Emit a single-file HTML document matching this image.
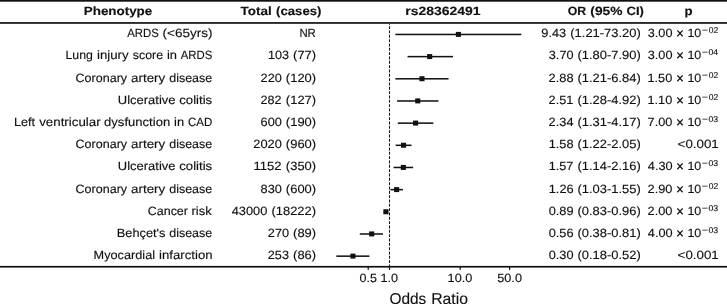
<!DOCTYPE html>
<html><head><meta charset="utf-8"><style>
html,body{margin:0;padding:0;background:#fff;}
body{width:727px;height:304px;overflow:hidden;}
svg{display:block;will-change:transform;}
text{font-family:"Liberation Sans",sans-serif;fill:#111;stroke:#111;stroke-width:0.14px;text-rendering:geometricPrecision;}
</style></head><body>
<svg width="727" height="304" viewBox="0 0 727 304">
<rect x="0" y="0" width="727" height="1.7" fill="#111"/>
<rect x="0" y="22.1" width="727" height="1.7" fill="#111"/>
<rect x="0" y="265.9" width="727" height="1.7" fill="#111"/>
<line x1="389.50" y1="23.8" x2="389.50" y2="266" stroke="#111" stroke-width="1.05" stroke-dasharray="2.89 1.444" stroke-dashoffset="-2.35"/>
<text x="83.78" y="14.70" font-size="12.00" font-weight="bold" textLength="68.50" lengthAdjust="spacingAndGlyphs">Phenotype</text>
<text x="240.59" y="14.70" font-size="12.00" font-weight="bold" textLength="31.15" lengthAdjust="spacingAndGlyphs">Total</text>
<text x="276.02" y="14.70" font-size="12.00" font-weight="bold" textLength="45.41" lengthAdjust="spacingAndGlyphs">(cases)</text>
<text x="405.32" y="14.70" font-size="12.00" font-weight="bold" textLength="75.25" lengthAdjust="spacingAndGlyphs">rs28362491</text>
<text x="567.76" y="14.70" font-size="12.00" font-weight="bold" textLength="18.38" lengthAdjust="spacingAndGlyphs">OR</text>
<text x="590.36" y="14.70" font-size="12.00" font-weight="bold" textLength="32.13" lengthAdjust="spacingAndGlyphs">(95%</text>
<text x="626.48" y="14.70" font-size="12.00" font-weight="bold" textLength="17.41" lengthAdjust="spacingAndGlyphs">CI)</text>
<text x="684.59" y="14.70" font-size="12.00" font-weight="bold" textLength="8.09" lengthAdjust="spacingAndGlyphs">p</text>
<text x="127.29" y="37.00" font-size="12.00" textLength="31.47" lengthAdjust="spacingAndGlyphs">ARDS</text>
<text x="162.63" y="37.00" font-size="12.00" textLength="49.91" lengthAdjust="spacingAndGlyphs">(&lt;65yrs)</text>
<text x="299.40" y="37.00" font-size="12.00" textLength="16.43" lengthAdjust="spacingAndGlyphs">NR</text>
<text x="541.32" y="37.00" font-size="12.00" textLength="24.85" lengthAdjust="spacingAndGlyphs">9.43</text>
<text x="570.31" y="37.00" font-size="12.00" textLength="70.48" lengthAdjust="spacingAndGlyphs">(1.21-73.20)</text>
<rect x="395.35" y="33.70" width="125.97" height="1.52" fill="#111"/>
<rect x="455.85" y="31.90" width="5.1" height="5.0" fill="#111"/>
<text x="647.77" y="37.00" font-size="12.00" textLength="24.68" lengthAdjust="spacingAndGlyphs">3.00</text>
<path d="M677.35 30.45L682.65 36.25M682.65 30.45L677.35 36.25" stroke="#111" stroke-width="1.25" fill="none"/>
<text x="687.42" y="37.00" font-size="12.00" textLength="13.90" lengthAdjust="spacingAndGlyphs">10</text>
<rect x="702.3" y="29.75" width="5.2" height="0.75" fill="#111"/>
<text x="708.65" y="33.00" font-size="8.34" textLength="9.50" lengthAdjust="spacingAndGlyphs">02</text>
<text x="65.52" y="59.00" font-size="12.00" textLength="27.42" lengthAdjust="spacingAndGlyphs">Lung</text>
<text x="96.97" y="59.00" font-size="12.00" textLength="31.63" lengthAdjust="spacingAndGlyphs">injury</text>
<text x="132.81" y="59.00" font-size="12.00" textLength="30.23" lengthAdjust="spacingAndGlyphs">score</text>
<text x="166.91" y="59.00" font-size="12.00" textLength="10.04" lengthAdjust="spacingAndGlyphs">in</text>
<text x="180.75" y="59.00" font-size="12.00" textLength="31.47" lengthAdjust="spacingAndGlyphs">ARDS</text>
<text x="267.92" y="59.00" font-size="12.00" textLength="21.05" lengthAdjust="spacingAndGlyphs">103</text>
<text x="293.12" y="59.00" font-size="12.00" textLength="22.99" lengthAdjust="spacingAndGlyphs">(77)</text>
<text x="548.82" y="59.00" font-size="12.00" textLength="24.68" lengthAdjust="spacingAndGlyphs">3.70</text>
<text x="577.54" y="59.00" font-size="12.00" textLength="63.25" lengthAdjust="spacingAndGlyphs">(1.80-7.90)</text>
<rect x="407.55" y="55.87" width="45.41" height="1.52" fill="#111"/>
<rect x="427.12" y="54.07" width="5.1" height="5.0" fill="#111"/>
<text x="647.77" y="59.00" font-size="12.00" textLength="24.68" lengthAdjust="spacingAndGlyphs">3.00</text>
<path d="M677.35 52.45L682.65 58.25M682.65 52.45L677.35 58.25" stroke="#111" stroke-width="1.25" fill="none"/>
<text x="687.42" y="59.00" font-size="12.00" textLength="13.90" lengthAdjust="spacingAndGlyphs">10</text>
<rect x="702.3" y="51.75" width="5.2" height="0.75" fill="#111"/>
<text x="708.47" y="55.00" font-size="8.34" textLength="9.68" lengthAdjust="spacingAndGlyphs">04</text>
<text x="75.54" y="82.00" font-size="12.00" textLength="51.54" lengthAdjust="spacingAndGlyphs">Coronary</text>
<text x="131.13" y="82.00" font-size="12.00" textLength="34.06" lengthAdjust="spacingAndGlyphs">artery</text>
<text x="169.23" y="82.00" font-size="12.00" textLength="43.03" lengthAdjust="spacingAndGlyphs">disease</text>
<text x="260.59" y="82.00" font-size="12.00" textLength="21.25" lengthAdjust="spacingAndGlyphs">220</text>
<text x="285.89" y="82.00" font-size="12.00" textLength="30.23" lengthAdjust="spacingAndGlyphs">(120)</text>
<text x="548.63" y="82.00" font-size="12.00" textLength="24.90" lengthAdjust="spacingAndGlyphs">2.88</text>
<text x="577.54" y="82.00" font-size="12.00" textLength="63.25" lengthAdjust="spacingAndGlyphs">(1.21-6.84)</text>
<rect x="395.35" y="78.04" width="53.19" height="1.52" fill="#111"/>
<rect x="419.43" y="76.24" width="5.1" height="5.0" fill="#111"/>
<text x="647.48" y="82.00" font-size="12.00" textLength="24.78" lengthAdjust="spacingAndGlyphs">1.50</text>
<path d="M677.35 75.45L682.65 81.25M682.65 75.45L677.35 81.25" stroke="#111" stroke-width="1.25" fill="none"/>
<text x="687.42" y="82.00" font-size="12.00" textLength="13.90" lengthAdjust="spacingAndGlyphs">10</text>
<rect x="702.3" y="74.75" width="5.2" height="0.75" fill="#111"/>
<text x="708.65" y="78.00" font-size="8.34" textLength="9.50" lengthAdjust="spacingAndGlyphs">02</text>
<text x="117.85" y="104.00" font-size="12.00" textLength="57.68" lengthAdjust="spacingAndGlyphs">Ulcerative</text>
<text x="179.26" y="104.00" font-size="12.00" textLength="32.90" lengthAdjust="spacingAndGlyphs">colitis</text>
<text x="260.60" y="104.00" font-size="12.00" textLength="20.99" lengthAdjust="spacingAndGlyphs">282</text>
<text x="285.89" y="104.00" font-size="12.00" textLength="30.23" lengthAdjust="spacingAndGlyphs">(127)</text>
<text x="548.63" y="104.00" font-size="12.00" textLength="24.69" lengthAdjust="spacingAndGlyphs">2.51</text>
<text x="577.54" y="104.00" font-size="12.00" textLength="63.25" lengthAdjust="spacingAndGlyphs">(1.28-4.92)</text>
<rect x="397.08" y="100.21" width="41.34" height="1.52" fill="#111"/>
<rect x="415.21" y="98.41" width="5.1" height="5.0" fill="#111"/>
<text x="647.48" y="104.00" font-size="12.00" textLength="24.78" lengthAdjust="spacingAndGlyphs">1.10</text>
<path d="M677.35 97.45L682.65 103.25M682.65 97.45L677.35 103.25" stroke="#111" stroke-width="1.25" fill="none"/>
<text x="687.42" y="104.00" font-size="12.00" textLength="13.90" lengthAdjust="spacingAndGlyphs">10</text>
<rect x="702.3" y="96.75" width="5.2" height="0.75" fill="#111"/>
<text x="708.65" y="100.00" font-size="8.34" textLength="9.50" lengthAdjust="spacingAndGlyphs">02</text>
<text x="13.96" y="126.00" font-size="12.00" textLength="21.13" lengthAdjust="spacingAndGlyphs">Left</text>
<text x="39.18" y="126.00" font-size="12.00" textLength="61.41" lengthAdjust="spacingAndGlyphs">ventricular</text>
<text x="104.06" y="126.00" font-size="12.00" textLength="66.14" lengthAdjust="spacingAndGlyphs">dysfunction</text>
<text x="174.12" y="126.00" font-size="12.00" textLength="10.04" lengthAdjust="spacingAndGlyphs">in</text>
<text x="187.94" y="126.00" font-size="12.00" textLength="24.30" lengthAdjust="spacingAndGlyphs">CAD</text>
<text x="260.54" y="126.00" font-size="12.00" textLength="21.30" lengthAdjust="spacingAndGlyphs">600</text>
<text x="285.89" y="126.00" font-size="12.00" textLength="30.23" lengthAdjust="spacingAndGlyphs">(190)</text>
<text x="548.63" y="126.00" font-size="12.00" textLength="24.86" lengthAdjust="spacingAndGlyphs">2.34</text>
<text x="577.54" y="126.00" font-size="12.00" textLength="63.25" lengthAdjust="spacingAndGlyphs">(1.31-4.17)</text>
<rect x="397.79" y="122.38" width="35.55" height="1.52" fill="#111"/>
<rect x="413.05" y="120.58" width="5.1" height="5.0" fill="#111"/>
<text x="647.64" y="126.00" font-size="12.00" textLength="24.78" lengthAdjust="spacingAndGlyphs">7.00</text>
<path d="M677.35 119.45L682.65 125.25M682.65 119.45L677.35 125.25" stroke="#111" stroke-width="1.25" fill="none"/>
<text x="687.42" y="126.00" font-size="12.00" textLength="13.90" lengthAdjust="spacingAndGlyphs">10</text>
<rect x="702.3" y="118.75" width="5.2" height="0.75" fill="#111"/>
<text x="708.57" y="122.00" font-size="8.34" textLength="9.62" lengthAdjust="spacingAndGlyphs">03</text>
<text x="75.54" y="148.00" font-size="12.00" textLength="51.54" lengthAdjust="spacingAndGlyphs">Coronary</text>
<text x="131.13" y="148.00" font-size="12.00" textLength="34.06" lengthAdjust="spacingAndGlyphs">artery</text>
<text x="169.23" y="148.00" font-size="12.00" textLength="43.03" lengthAdjust="spacingAndGlyphs">disease</text>
<text x="253.34" y="148.00" font-size="12.00" textLength="28.50" lengthAdjust="spacingAndGlyphs">2020</text>
<text x="285.88" y="148.00" font-size="12.00" textLength="30.23" lengthAdjust="spacingAndGlyphs">(960)</text>
<text x="548.72" y="148.00" font-size="12.00" textLength="24.81" lengthAdjust="spacingAndGlyphs">1.58</text>
<text x="577.54" y="148.00" font-size="12.00" textLength="63.25" lengthAdjust="spacingAndGlyphs">(1.22-2.05)</text>
<rect x="395.61" y="144.55" width="15.94" height="1.52" fill="#111"/>
<rect x="401.00" y="142.75" width="5.1" height="5.0" fill="#111"/>
<text x="677.63" y="148.00" font-size="12.00" textLength="41.13" lengthAdjust="spacingAndGlyphs">&lt;0.001</text>
<text x="117.85" y="170.00" font-size="12.00" textLength="57.68" lengthAdjust="spacingAndGlyphs">Ulcerative</text>
<text x="179.26" y="170.00" font-size="12.00" textLength="32.90" lengthAdjust="spacingAndGlyphs">colitis</text>
<text x="253.41" y="170.00" font-size="12.00" textLength="28.21" lengthAdjust="spacingAndGlyphs">1152</text>
<text x="285.88" y="170.00" font-size="12.00" textLength="30.23" lengthAdjust="spacingAndGlyphs">(350)</text>
<text x="548.72" y="170.00" font-size="12.00" textLength="24.69" lengthAdjust="spacingAndGlyphs">1.57</text>
<text x="577.54" y="170.00" font-size="12.00" textLength="63.25" lengthAdjust="spacingAndGlyphs">(1.14-2.16)</text>
<rect x="393.52" y="166.72" width="19.62" height="1.52" fill="#111"/>
<rect x="400.80" y="164.92" width="5.1" height="5.0" fill="#111"/>
<text x="647.81" y="170.00" font-size="12.00" textLength="24.80" lengthAdjust="spacingAndGlyphs">4.30</text>
<path d="M677.35 163.45L682.65 169.25M682.65 163.45L677.35 169.25" stroke="#111" stroke-width="1.25" fill="none"/>
<text x="687.42" y="170.00" font-size="12.00" textLength="13.90" lengthAdjust="spacingAndGlyphs">10</text>
<rect x="702.3" y="162.75" width="5.2" height="0.75" fill="#111"/>
<text x="708.57" y="166.00" font-size="8.34" textLength="9.62" lengthAdjust="spacingAndGlyphs">03</text>
<text x="75.54" y="193.00" font-size="12.00" textLength="51.54" lengthAdjust="spacingAndGlyphs">Coronary</text>
<text x="131.13" y="193.00" font-size="12.00" textLength="34.06" lengthAdjust="spacingAndGlyphs">artery</text>
<text x="169.23" y="193.00" font-size="12.00" textLength="43.03" lengthAdjust="spacingAndGlyphs">disease</text>
<text x="260.62" y="193.00" font-size="12.00" textLength="21.22" lengthAdjust="spacingAndGlyphs">830</text>
<text x="285.89" y="193.00" font-size="12.00" textLength="30.23" lengthAdjust="spacingAndGlyphs">(600)</text>
<text x="548.72" y="193.00" font-size="12.00" textLength="24.88" lengthAdjust="spacingAndGlyphs">1.26</text>
<text x="577.54" y="193.00" font-size="12.00" textLength="63.25" lengthAdjust="spacingAndGlyphs">(1.03-1.55)</text>
<rect x="390.41" y="188.89" width="12.55" height="1.52" fill="#111"/>
<rect x="394.05" y="187.09" width="5.1" height="5.0" fill="#111"/>
<text x="647.60" y="193.00" font-size="12.00" textLength="24.87" lengthAdjust="spacingAndGlyphs">2.90</text>
<path d="M677.35 186.45L682.65 192.25M682.65 186.45L677.35 192.25" stroke="#111" stroke-width="1.25" fill="none"/>
<text x="687.42" y="193.00" font-size="12.00" textLength="13.90" lengthAdjust="spacingAndGlyphs">10</text>
<rect x="702.3" y="185.75" width="5.2" height="0.75" fill="#111"/>
<text x="708.65" y="189.00" font-size="8.34" textLength="9.50" lengthAdjust="spacingAndGlyphs">02</text>
<text x="147.74" y="215.00" font-size="12.00" textLength="40.24" lengthAdjust="spacingAndGlyphs">Cancer</text>
<text x="191.57" y="215.00" font-size="12.00" textLength="20.12" lengthAdjust="spacingAndGlyphs">risk</text>
<text x="231.72" y="215.00" font-size="12.00" textLength="35.65" lengthAdjust="spacingAndGlyphs">43000</text>
<text x="271.42" y="215.00" font-size="12.00" textLength="44.69" lengthAdjust="spacingAndGlyphs">(18222)</text>
<text x="548.69" y="215.00" font-size="12.00" textLength="24.87" lengthAdjust="spacingAndGlyphs">0.89</text>
<text x="577.54" y="215.00" font-size="12.00" textLength="63.25" lengthAdjust="spacingAndGlyphs">(0.83-0.96)</text>
<rect x="383.78" y="211.06" width="4.47" height="1.52" fill="#111"/>
<rect x="383.37" y="209.26" width="5.1" height="5.0" fill="#111"/>
<text x="647.60" y="215.00" font-size="12.00" textLength="24.87" lengthAdjust="spacingAndGlyphs">2.00</text>
<path d="M677.35 208.45L682.65 214.25M682.65 208.45L677.35 214.25" stroke="#111" stroke-width="1.25" fill="none"/>
<text x="687.42" y="215.00" font-size="12.00" textLength="13.90" lengthAdjust="spacingAndGlyphs">10</text>
<rect x="702.3" y="207.75" width="5.2" height="0.75" fill="#111"/>
<text x="708.57" y="211.00" font-size="8.34" textLength="9.62" lengthAdjust="spacingAndGlyphs">03</text>
<text x="116.82" y="237.00" font-size="12.00" textLength="48.59" lengthAdjust="spacingAndGlyphs">Behçet&#39;s</text>
<text x="169.22" y="237.00" font-size="12.00" textLength="43.03" lengthAdjust="spacingAndGlyphs">disease</text>
<text x="267.82" y="237.00" font-size="12.00" textLength="21.25" lengthAdjust="spacingAndGlyphs">270</text>
<text x="293.12" y="237.00" font-size="12.00" textLength="22.99" lengthAdjust="spacingAndGlyphs">(89)</text>
<text x="548.69" y="237.00" font-size="12.00" textLength="24.91" lengthAdjust="spacingAndGlyphs">0.56</text>
<text x="577.54" y="237.00" font-size="12.00" textLength="63.25" lengthAdjust="spacingAndGlyphs">(0.38-0.81)</text>
<rect x="359.79" y="233.23" width="23.24" height="1.52" fill="#111"/>
<rect x="369.15" y="231.43" width="5.1" height="5.0" fill="#111"/>
<text x="647.81" y="237.00" font-size="12.00" textLength="24.80" lengthAdjust="spacingAndGlyphs">4.00</text>
<path d="M677.35 230.45L682.65 236.25M682.65 230.45L677.35 236.25" stroke="#111" stroke-width="1.25" fill="none"/>
<text x="687.42" y="237.00" font-size="12.00" textLength="13.90" lengthAdjust="spacingAndGlyphs">10</text>
<rect x="702.3" y="229.75" width="5.2" height="0.75" fill="#111"/>
<text x="708.57" y="233.00" font-size="8.34" textLength="9.62" lengthAdjust="spacingAndGlyphs">03</text>
<text x="93.64" y="259.00" font-size="12.00" textLength="61.40" lengthAdjust="spacingAndGlyphs">Myocardial</text>
<text x="159.06" y="259.00" font-size="12.00" textLength="53.51" lengthAdjust="spacingAndGlyphs">infarction</text>
<text x="267.82" y="259.00" font-size="12.00" textLength="21.15" lengthAdjust="spacingAndGlyphs">253</text>
<text x="293.12" y="259.00" font-size="12.00" textLength="22.99" lengthAdjust="spacingAndGlyphs">(86)</text>
<text x="548.69" y="259.00" font-size="12.00" textLength="24.81" lengthAdjust="spacingAndGlyphs">0.30</text>
<text x="577.54" y="259.00" font-size="12.00" textLength="63.25" lengthAdjust="spacingAndGlyphs">(0.18-0.52)</text>
<rect x="336.33" y="255.40" width="33.09" height="1.52" fill="#111"/>
<rect x="350.39" y="253.60" width="5.1" height="5.0" fill="#111"/>
<text x="677.63" y="259.00" font-size="12.00" textLength="41.13" lengthAdjust="spacingAndGlyphs">&lt;0.001</text>
<rect x="367.62" y="266.5" width="1.2" height="3.4" fill="#111"/>
<text x="359.56" y="281.80" font-size="12.00" textLength="17.35" lengthAdjust="spacingAndGlyphs">0.5</text>
<rect x="388.90" y="266.5" width="1.2" height="3.4" fill="#111"/>
<text x="380.50" y="281.80" font-size="12.00" textLength="17.53" lengthAdjust="spacingAndGlyphs">1.0</text>
<rect x="459.60" y="266.5" width="1.2" height="3.4" fill="#111"/>
<text x="447.58" y="281.80" font-size="12.00" textLength="24.78" lengthAdjust="spacingAndGlyphs">10.0</text>
<rect x="509.02" y="266.5" width="1.2" height="3.4" fill="#111"/>
<text x="497.27" y="281.80" font-size="12.00" textLength="24.69" lengthAdjust="spacingAndGlyphs">50.0</text>
<text x="389.44" y="304.00" font-size="15.80" textLength="36.89" lengthAdjust="spacingAndGlyphs">Odds</text>
<text x="431.18" y="304.00" font-size="15.80" textLength="36.73" lengthAdjust="spacingAndGlyphs">Ratio</text>
</svg>
</body></html>
